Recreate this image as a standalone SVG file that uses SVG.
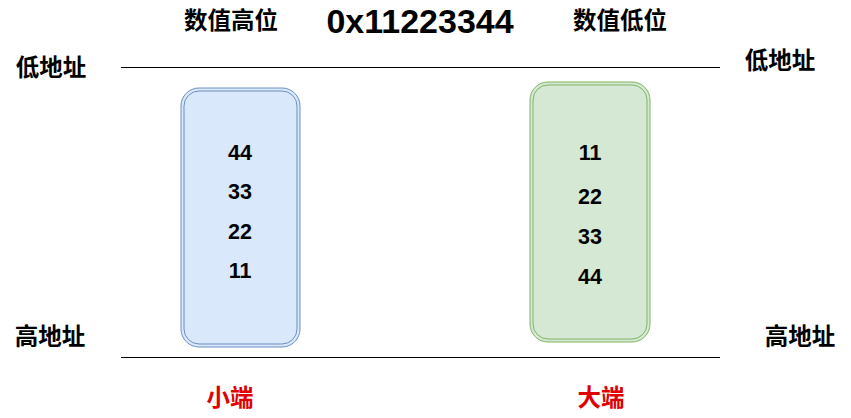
<svg xmlns="http://www.w3.org/2000/svg" width="851" height="418" viewBox="0 0 851 418">
<style>
text{font-family:"Liberation Sans","Noto Sans CJK SC",sans-serif;font-weight:bold;text-anchor:middle;dominant-baseline:central;fill:#000}
.cj{font-size:23.5px}
.num{font-size:21.5px}
.red{fill:#e00000}
.line{stroke:#000;stroke-width:1;fill:none}
</style>
<rect width="851" height="418" fill="#fff"/>
<g id="title">
<text class="cj" x="231" y="21">数值高位</text>
<text x="420" y="21" style="font-size:34px">0x11223344</text>
<text class="cj" x="620" y="21">数值低位</text>
</g>
<g id="labels">
<text class="cj" x="51" y="68">低地址</text>
<text class="cj" x="780" y="61">低地址</text>
<text class="cj" x="50" y="337">高地址</text>
<text class="cj" x="800" y="337">高地址</text>
</g>
<g id="connectors">
<line class="line" x1="121" y1="67.5" x2="720" y2="67.5"/>
<line class="line" x1="121" y1="357.5" x2="720" y2="357.5"/>
</g>
<g id="little">
<rect x="181" y="88" width="119" height="259" rx="18" fill="#dae8fc" stroke="#6c8ebf" stroke-width="1"/>
<rect x="184" y="91" width="113" height="253" rx="15" fill="none" stroke="#6c8ebf" stroke-width="1"/>
<text class="num" x="240" y="153">44</text>
<text class="num" x="240" y="192">33</text>
<text class="num" x="240" y="232">22</text>
<text class="num" x="240" y="271">11</text>
</g>
<g id="big">
<rect x="530" y="82" width="120" height="260" rx="18" fill="#d5e8d4" stroke="#82b366" stroke-width="1"/>
<rect x="533" y="85" width="114" height="254" rx="15" fill="none" stroke="#82b366" stroke-width="1"/>
<text class="num" x="590" y="153">11</text>
<text class="num" x="590" y="197">22</text>
<text class="num" x="590" y="237">33</text>
<text class="num" x="590" y="277">44</text>
</g>
<g id="names">
<text class="cj red" x="230" y="398">小端</text>
<text class="cj red" x="601" y="398">大端</text>
</g>
</svg>
